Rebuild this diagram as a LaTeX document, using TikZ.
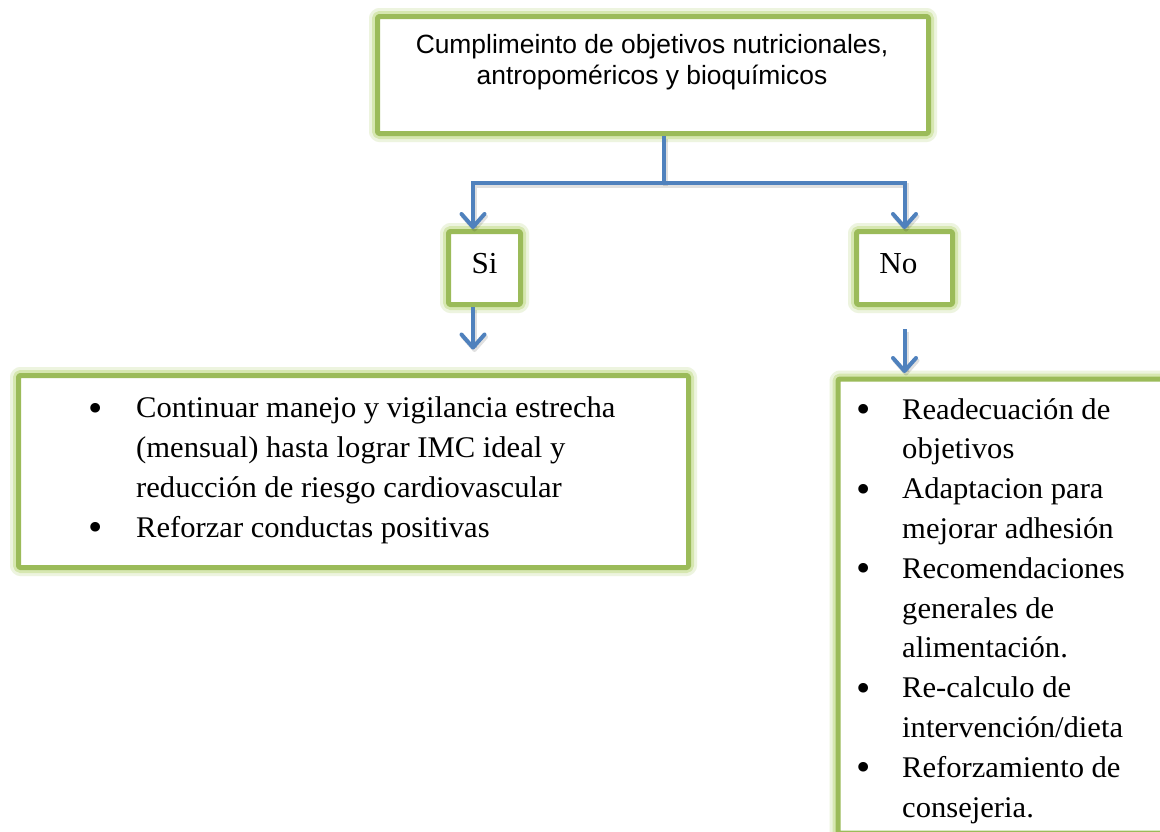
\documentclass[tikz,border=0pt]{standalone}
\usepackage{fontspec}
\setmainfont{Liberation Serif}[FakeStretch=1.02]
\newfontfamily\arialfont{Liberation Sans}
\usetikzlibrary{arrows.meta}
\definecolor{boxgreen}{HTML}{9BBB59}
\definecolor{glowA}{HTML}{EDF4DF}
\definecolor{glowB}{HTML}{D6E7B0}
\definecolor{connblue}{HTML}{4F81BD}
\newcommand\bigdot{\raisebox{-3.5pt}{\fontsize{40}{0}\selectfont\char"2022}}
\newcommand\lbul{\makebox[48pt][l]{\bigdot}}
\newcommand\lind{\hspace*{48pt}}
\newcommand\rbul{\makebox[46pt][l]{\bigdot}}
\newcommand\rind{\hspace*{46pt}}
\tikzset{
  gbox/.style={draw=boxgreen, line width=5pt, fill=white, inner sep=0pt, line join=round, rounded corners=1.5pt,
    preaction={draw=glowA, line width=17pt, rounded corners=6pt},
    preaction={draw=glowB, line width=11pt, rounded corners=4pt}},
  conn/.style={draw=connblue, line width=4pt,
    preaction={draw=black, draw opacity=0.12, line width=5pt, transform canvas={shift={(1.5pt,-2.5pt)}}}},
  arrowc/.style={conn, -{Straight Barb[length=13pt,width=23pt,line width=4pt,round]}},
  sertext/.style={font={\fontsize{30.5}{39.8}\selectfont}, inner sep=0pt},
  toptext/.style={font={\arialfont\fontsize{26.4}{30.5}\selectfont}, inner sep=0pt, align=center},
  listtext/.style={font={\fontsize{30}{39.8}\selectfont}, inner sep=0pt, align=left}
}
\begin{document}
\begin{tikzpicture}[x=1pt,y=-1pt]
\useasboundingbox (0,0) rectangle (1160,831);
\clip (0,0) rectangle (1160,831);
\fill[white] (0,0) rectangle (1160,831);
% boxes
\node[gbox, minimum width=551pt, minimum height=117pt] (top) at (653,75) {};
\node[gbox, minimum width=72pt, minimum height=73pt] (si) at (484.5,268) {};
\node[gbox, minimum width=96pt, minimum height=73pt] (no) at (904.5,268) {};
\node[gbox, minimum width=670pt, minimum height=192pt] (lbox) at (353.5,471.5) {};
\node[gbox, minimum width=380pt, minimum height=454pt, anchor=north west] (rbox) at (835.5,376.5) {};
% texts
\node[toptext, anchor=base] (ttext) at (652,84) {Cumplimeinto de objetivos nutricionales,\\antropoméricos y bioquímicos};
\node[sertext, anchor=base] (sitext) at (484.5,273) {Si};
\node[sertext, anchor=base] (notext) at (898.5,273) {No};
\node[listtext, anchor=base west] (ltext) at (88,537) {\lbul Continuar manejo y vigilancia estrecha\\
\lind (mensual) hasta lograr IMC ideal y\\
\lind reducción de riesgo cardiovascular\\
\lbul Reforzar conductas positivas};
\begin{scope}
\clip (838,379) rectangle (1200,828);
\node[listtext, anchor=base west] (rtext) at (856,817) {\rbul Readecuación de\\
\rind objetivos\\
\rbul Adaptacion para\\
\rind mejorar adhesión\\
\rbul Recomendaciones\\
\rind generales de\\
\rind alimentación.\\
\rbul Re-calculo de\\
\rind intervención/dieta\\
\rbul Reforzamiento de\\
\rind consejeria.};
\end{scope}
% connectors
\coordinate (j) at (664,183);
\draw[conn] (j |- top.south) -- (j);
\draw[arrowc] (j) -| ([xshift=-11.5pt]si.north);
\draw[arrowc] (j) -| (no.north);
\draw[arrowc, shorten >=23.5pt] ([xshift=-11.5pt]si.south) -- ([xshift=-11.5pt]si.south |- lbox.north);
\draw[arrowc, shorten <=22pt, shorten >=3.5pt] (no.south) -- (no.south |- rbox.north);
\end{tikzpicture}
\end{document}
